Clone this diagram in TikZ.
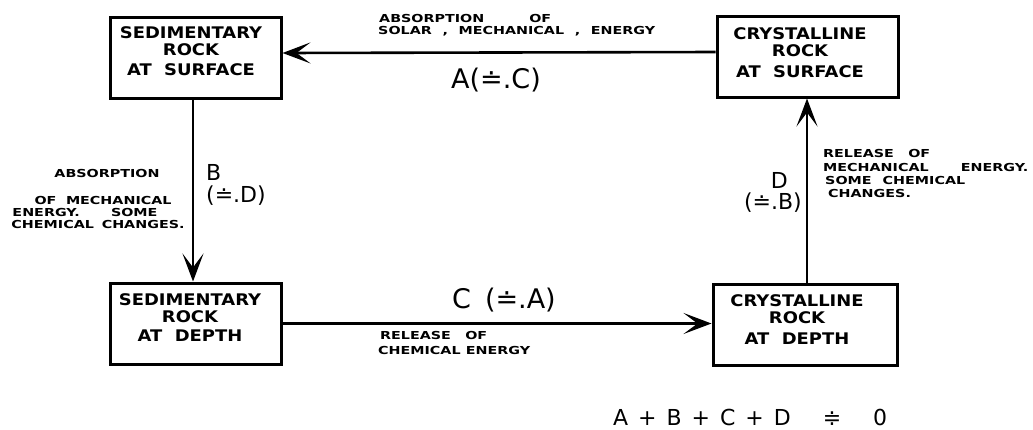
\documentclass[tikz,border=0pt]{standalone}
\usepackage{fontspec}
\usetikzlibrary{arrows.meta}
\newfontfamily\boxfont[FakeStretch=1.12]{DejaVu Sans}
\newfontfamily\labfont[FakeStretch=1.3]{DejaVu Sans}
\newfontfamily\bigfont{DejaVu Sans}
\tikzset{
  rockbox/.style={draw, line width=3pt, inner sep=0pt},
  boxtxt/.style={inner sep=0pt, align=center, font=\boxfont\bfseries\fontsize{16}{17}\selectfont},
  lab/.style={inner sep=0pt, font=\labfont\bfseries\fontsize{11}{13}\selectfont},
  big/.style={inner sep=0pt, font=\bigfont\fontsize{27}{30}\selectfont},
  mid/.style={inner sep=0pt, font=\bigfont\fontsize{22}{24}\selectfont},
  arr/.style={line width=2.6pt, -{Stealth[length=28pt,width=21pt,inset=14pt]}}
}
\begin{document}
\begin{tikzpicture}[x=1pt,y=-1pt]
\useasboundingbox (0,0) rectangle (1033,429);
% boxes
\node[rockbox, minimum width=171pt, minimum height=81pt] (tl) at (195.5,57.5) {};
\node[rockbox, minimum width=181pt, minimum height=81pt] (tr) at (807.5,56.5) {};
\node[rockbox, minimum width=171pt, minimum height=81pt] (bl) at (195.5,323.5) {};
\node[rockbox, minimum width=184pt, minimum height=81pt] (br) at (805,324.5) {};
% box texts
\node[boxtxt] (tlt) at (191,51) {SEDIMENTARY\\ROCK\\[3pt]AT\ \ SURFACE};
\node[boxtxt] (trt) at (800,53) {CRYSTALLINE\\ROCK\\[4pt]AT\ \ SURFACE};
\node[boxtxt] (blt) at (190,318) {SEDIMENTARY\\ROCK\\[2pt]AT\ \ DEPTH\hspace{30pt}};
\node[boxtxt] (brt) at (797,320) {CRYSTALLINE\\ROCK\\[4pt]AT\ \ DEPTH\hspace{25pt}};
% connectors
\draw[arr] ([yshift=4.5pt]tr.west) -- ([yshift=4.5pt]tl.east);
\draw[arr] ([xshift=-2.5pt]tl.south) -- ([xshift=-2.5pt]bl.north);
\draw[arr] (bl.east) -- (bl.east -| br.west);
\draw[arr] ([xshift=2pt]br.north) -- ([xshift=2pt]br.north |- tr.south);
% top labels
\node[lab, anchor=west] (ta1) at (379,18) {\makebox[172pt][s]{ABSORPTION OF}};
\node[lab, anchor=west] (ta2) at (378,31) {\makebox[277pt][s]{SOLAR , MECHANICAL , ENERGY}};
\node[big] (ta3) at (496,80) {A(≐.C)};
% left labels
\node[lab] (la1) at (107,173) {ABSORPTION};
\node[lab] (la2) at (103,200) {\makebox[137pt][s]{OF MECHANICAL}};
\node[lab] (la3) at (85,212) {\makebox[145pt][s]{ENERGY. SOME}};
\node[lab] (la4) at (98,224) {\makebox[173pt][s]{CHEMICAL CHANGES.}};
\node[mid, anchor=west] (lb1) at (206,172) {B};
\node[mid, anchor=west] (lb2) at (206,196) {(≐.D)};
% right labels
\node[lab, anchor=west] (ra1) at (823,153) {\makebox[107pt][s]{RELEASE OF}};
\node[lab, anchor=west] (ra2) at (823,167) {\makebox[205pt][s]{MECHANICAL ENERGY.}};
\node[lab, anchor=west] (ra3) at (825,180) {\makebox[140pt][s]{SOME CHEMICAL}};
\node[lab, anchor=west] (ra4) at (828,193) {CHANGES.};
\node[mid, anchor=east] (rb1) at (788,180) {D};
\node[mid, anchor=east] (rb2) at (802,203) {(≐.B)};
% bottom labels
\node[big, anchor=west] (bc) at (452,300) {C\hspace{14pt}(≐.A)};
\node[lab, anchor=west] (bb1) at (380,335) {\makebox[107pt][s]{RELEASE OF}};
\node[lab, anchor=west] (bb2) at (378,350) {\makebox[152pt][s]{CHEMICAL ENERGY}};
% formula
\node[mid, anchor=west] (sum) at (613,417) {\makebox[274pt][s]{A + B + C + D \quad ≑ \quad 0}};
\end{tikzpicture}
\end{document}
